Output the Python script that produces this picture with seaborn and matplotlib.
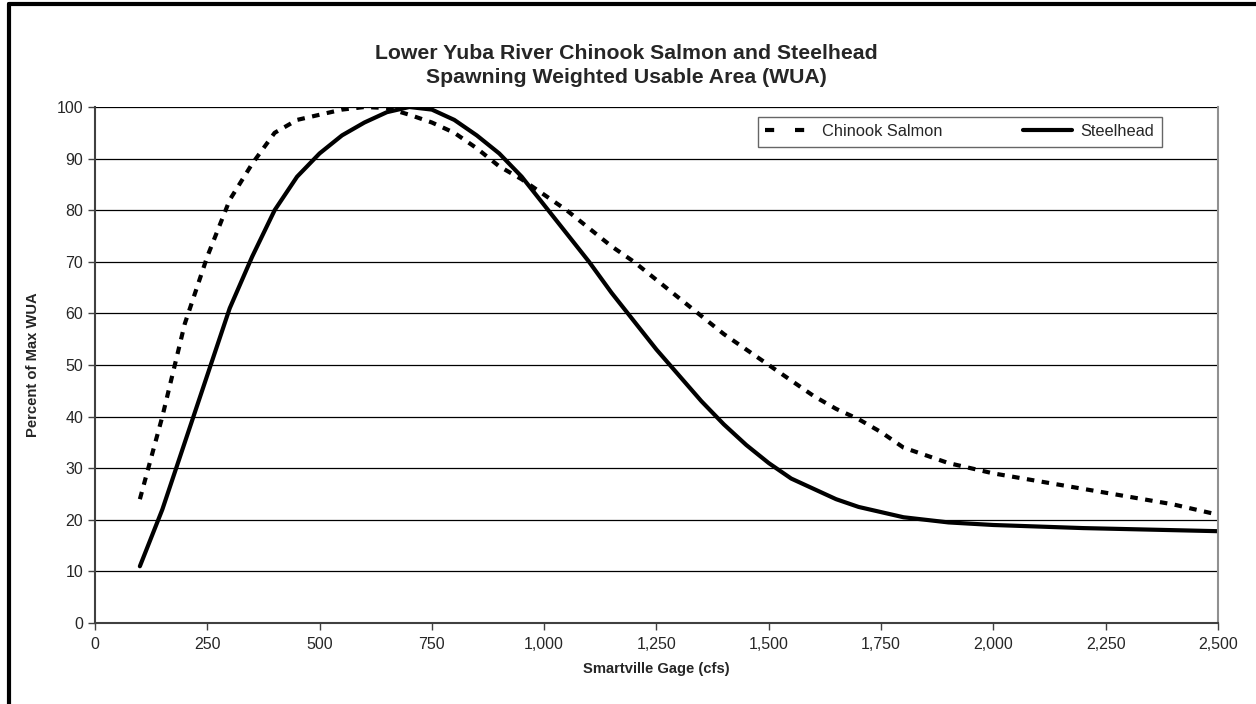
import matplotlib
matplotlib.use('Agg')
import matplotlib.pyplot as plt
import seaborn as sns
import pandas as pd
from matplotlib.ticker import FuncFormatter, MultipleLocator
from matplotlib.lines import Line2D

# flows (cfs) and percent of max WUA
chinook_flow = [100, 150, 200, 250, 300, 350, 400, 450, 500, 550, 600, 650, 700, 750,
                800, 850, 900, 950, 1000, 1050, 1100, 1150, 1200, 1250, 1300, 1350,
                1400, 1450, 1500, 1550, 1600, 1650, 1700, 1750, 1800, 1850, 1900, 1950,
                2000, 2100, 2200, 2300, 2400, 2500]
chinook_wua = [24, 40, 58, 71, 82, 89, 95, 97.5, 98.5, 99.5, 100, 99.8, 98.5, 97,
               95, 92, 88.5, 86, 83, 80, 76.5, 73, 70, 66.5, 63, 59.5,
               56, 53, 50, 47, 44, 41.5, 39.5, 37, 34, 32.5, 31, 30,
               29, 27.5, 26, 24.5, 23, 21]

steel_flow = [100, 150, 200, 250, 300, 350, 400, 450, 500, 550, 600, 650, 700, 750,
              800, 850, 900, 950, 1000, 1050, 1100, 1150, 1200, 1250, 1300, 1350,
              1400, 1450, 1500, 1550, 1600, 1650, 1700, 1750, 1800, 1850, 1900,
              2000, 2100, 2200, 2300, 2400, 2500]
steel_wua = [11, 22, 35, 48, 61, 71, 80, 86.5, 91, 94.5, 97, 99, 100, 99.5,
             97.5, 94.5, 91, 86.5, 81, 75.5, 70, 64, 58.5, 53, 48, 43,
             38.5, 34.5, 31, 28, 26, 24, 22.5, 21.5, 20.5, 20, 19.5,
             19, 18.7, 18.4, 18.2, 18, 17.8]

df = pd.concat([
    pd.DataFrame({'flow': chinook_flow, 'wua': chinook_wua, 'species': 'Chinook Salmon'}),
    pd.DataFrame({'flow': steel_flow, 'wua': steel_wua, 'species': 'Steelhead'}),
])

sns.set_style('white')
plt.rcParams['font.family'] = ['Liberation Sans', 'DejaVu Sans']

fig = plt.figure(figsize=(12.56, 7.04), dpi=100)
ax = fig.add_axes([0.0756, 0.115, 0.8941, 0.733])

sns.lineplot(data=df, x='flow', y='wua', style='species', color='black',
             dashes={'Chinook Salmon': (1.8, 1.8), 'Steelhead': ''},
             linewidth=3, legend=False, ax=ax)

ax.set_xlim(0, 2500)
ax.set_ylim(0, 100)
ax.xaxis.set_major_locator(MultipleLocator(250))
ax.yaxis.set_major_locator(MultipleLocator(10))
ax.xaxis.set_major_formatter(FuncFormatter(lambda v, p: f'{int(v):,}'))
ax.grid(axis='y', color='black', linewidth=0.9)
ax.set_axisbelow(True)
ax.tick_params(axis='both', direction='out', length=5, width=1, color='#404040',
               labelsize=11.5, bottom=True, left=True)
ax.tick_params(axis='x', pad=5)
for s in ['left', 'bottom']:
    ax.spines[s].set_color('#404040')
    ax.spines[s].set_linewidth(1.5)
ax.spines['right'].set_color('#909090')
ax.spines['right'].set_linewidth(1.5)
ax.spines['top'].set_visible(False)

ax.set_xlabel('Smartville Gage (cfs)', fontsize=10.6, fontweight='bold', labelpad=7)
ax.set_ylabel('Percent of Max WUA', fontsize=10.6, fontweight='bold', labelpad=12)

fig.text(0.499, 0.907, 'Lower Yuba River Chinook Salmon and Steelhead\nSpawning Weighted Usable Area (WUA)',
         ha='center', va='center', fontsize=15.3, fontweight='bold', linespacing=1.3)

handles = [Line2D([], [], color='black', linewidth=3, dashes=(2.2, 5)),
           Line2D([], [], color='black', linewidth=3)]
leg = ax.legend(handles, ['Chinook Salmon', 'Steelhead'], ncol=2,
                loc='upper left', bbox_to_anchor=(0.59, 0.919, 0.36, 0.062), mode='expand',
                borderaxespad=0, frameon=True, fancybox=False, fontsize=11.8,
                handlelength=3.0, handletextpad=0.5, columnspacing=3, borderpad=0.45)
leg.get_frame().set_edgecolor('#404040')
leg.get_frame().set_linewidth(1)

# outer frame of the picture (left and top edges show)
fig.add_artist(Line2D([0.0072, 0.0072], [0, 0.994], color='black', linewidth=3,
                      transform=fig.transFigure))
fig.add_artist(Line2D([0.0072, 1.0], [0.994, 0.994], color='black', linewidth=3,
                      transform=fig.transFigure))

fig.savefig('out.png', dpi=100)
